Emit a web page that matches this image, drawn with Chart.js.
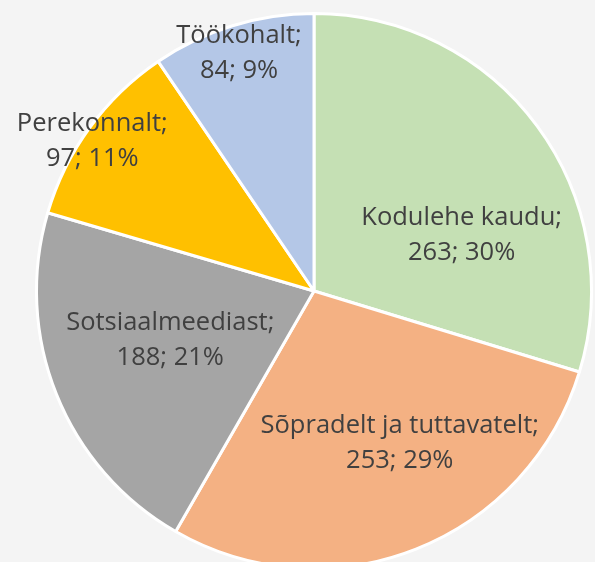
<!DOCTYPE html>
<html>
<head>
<meta charset="utf-8">
<script src="https://cdn.jsdelivr.net/npm/chart.js@4.4.1/dist/chart.umd.min.js"></script>
<style>
  html, body { margin: 0; padding: 0; background: #F4F4F4; overflow: hidden; width: 595px; height: 562px; }
  #wrap { position: absolute; left: 0; top: 0; width: 628px; height: 582px; }
  canvas { display: block; }
</style>
</head>
<body>
<div id="wrap"><canvas id="c" width="628" height="582"></canvas></div>
<script>
const categories = ["Kodulehe kaudu", "Sõpradelt ja tuttavatelt", "Sotsiaalmeediast", "Perekonnalt", "Töökohalt"];
const values = [263, 253, 188, 97, 84];
const colors = ["#C5E0B4", "#F4B183", "#A5A5A5", "#FFC000", "#B4C7E7"];

// label block centre offsets, as fractions of the pie radius (from the pie centre)
const labelOffsets = [
  [0.532, -0.201],
  [0.309, 0.550],
  [-0.518, 0.176],
  [-0.799, -0.540],
  [-0.270, -0.856]
];

const total = values.reduce((a, b) => a + b, 0);

const labelPlugin = {
  id: 'sliceLabels',
  afterDatasetsDraw(chart) {
    const ctx = chart.ctx;
    const meta = chart.getDatasetMeta(0);
    ctx.save();
    ctx.fillStyle = '#404040';
    ctx.font = '25.5px "Open Sans"';
    ctx.textAlign = 'center';
    ctx.textBaseline = 'middle';
    meta.data.forEach((arc, i) => {
      const R = arc.outerRadius;
      const cx = arc.x + labelOffsets[i][0] * R;
      const cy = arc.y + labelOffsets[i][1] * R;
      const pct = Math.round(values[i] / total * 100);
      const lh = 35;
      ctx.fillText(categories[i] + ';', cx, cy - lh / 2);
      ctx.fillText(values[i] + '; ' + pct + '%', cx, cy + lh / 2);
    });
    ctx.restore();
  }
};

new Chart(document.getElementById('c'), {
  type: 'pie',
  data: {
    labels: categories,
    datasets: [{
      data: values,
      backgroundColor: colors,
      borderColor: '#FFFFFF',
      borderWidth: 3
    }]
  },
  options: {
    responsive: false,
    animation: false,
    layout: { padding: { top: 12, bottom: 12, left: 12, right: 12 } },
    plugins: {
      legend: { display: false },
      tooltip: { enabled: false }
    }
  },
  plugins: [labelPlugin]
});
</script>
</body>
</html>
